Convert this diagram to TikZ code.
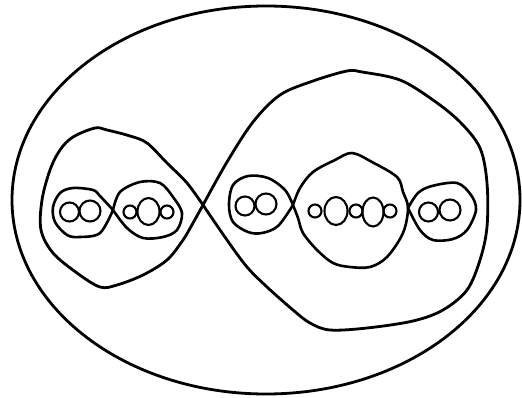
\documentclass[tikz,border=0pt]{standalone}
\begin{document}
\begin{tikzpicture}[x=1pt,y=-1pt,
  bigline/.style={line width=2.8pt,line join=round,line cap=round},
  midline/.style={line width=2.6pt,line join=round,line cap=round},
  smallline/.style={line width=2.1pt}]
\useasboundingbox[fill=white] (0,0) rectangle (522,398);
% outer ellipse
\draw[bigline] (266,200) ellipse [x radius=254, y radius=194];
% big figure eight: left lobe
\draw[bigline] plot[smooth,tension=0.55] coordinates {(203,205) (187,183) (167,163) (147,143) (130,136) (107,130) (95,128) (73,137) (60,150) (50,170) (42,200) (41,230) (53,253) (77,273) (100,287) (117,285) (143,275) (167,260) (183,240) (193,223) (203,205)};
% big figure eight: right lobe
\draw[bigline] plot[smooth,tension=0.55] coordinates {(203,205) (227,162) (253,122) (280,95) (313,81) (347,71) (362,72) (400,80) (433,100) (460,122) (480,148) (487,183) (487,227) (480,260) (467,290) (443,310) (413,321) (367,328) (330,330) (310,323) (293,310) (267,287) (247,267) (227,240) (203,205)};
% left inner figure eight
\draw[midline] plot[smooth,tension=0.55] coordinates {(113,210) (100,196) (93,190) (73,188) (60,193) (53,207) (55,222) (67,235) (80,237) (100,233) (113,210)};
\draw[midline] plot[smooth,tension=0.55] coordinates {(113,210) (120,192) (140,182) (160,183) (173,197) (182,213) (177,230) (163,237) (143,238) (127,228) (113,210)};
% right chain: small lobe, central lobe, small lobe
\draw[midline] plot[smooth,tension=0.55] coordinates {(293,205) (285,190) (268,178) (248,176) (233,185) (229,205) (233,222) (248,232) (262,233) (278,226) (293,205)};
\draw[midline] plot[smooth,tension=0.55] coordinates {(293,205) (300,188) (313,172) (335,160) (352,153) (372,162) (397,177) (403,192) (408,208) (403,233) (387,257) (370,267) (350,267) (333,263) (317,250) (303,233) (298,218) (293,205)};
\draw[midline] plot[smooth,tension=0.55] coordinates {(408,208) (418,193) (432,186) (457,183) (471,195) (476,210) (467,230) (453,239) (433,240) (420,230) (408,208)};
% infinity signs and bead chains
\draw[smallline] (69.5,212) circle (9.5);
\draw[smallline] (90,211) circle (10.5);
\draw[smallline] (130,212) circle (6.5);
\draw[smallline] (148.5,211.5) ellipse [x radius=11, y radius=13.5];
\draw[smallline] (167,212) circle (6.5);
\draw[smallline] (245,206) circle (9.5);
\draw[smallline] (266,204) circle (10.5);
\draw[smallline] (315,211) circle (6.5);
\draw[smallline] (336,211) ellipse [x radius=11.5, y radius=14];
\draw[smallline] (356,211) circle (6.5);
\draw[smallline] (373,212) ellipse [x radius=10.5, y radius=14.5];
\draw[smallline] (390,211) circle (6.5);
\draw[smallline] (428.5,212) circle (9.5);
\draw[smallline] (450,210) circle (10.5);
\end{tikzpicture}
\end{document}
